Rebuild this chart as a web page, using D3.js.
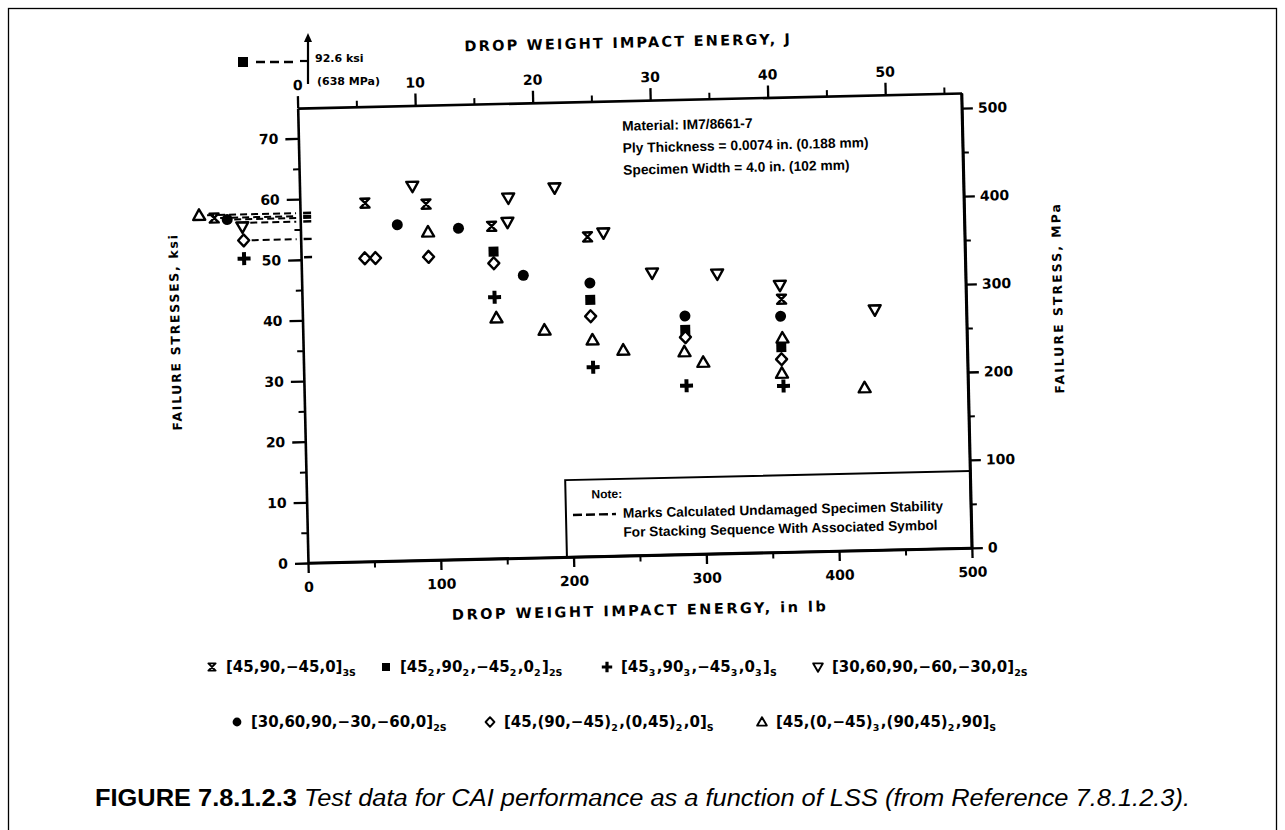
<!DOCTYPE html>
<html><head><meta charset="utf-8">
<script src="https://cdnjs.cloudflare.com/ajax/libs/d3/7.8.5/d3.min.js"></script>
<style>body{margin:0;background:#fff}svg{display:block}</style>
</head><body>
<svg id="c" width="1285" height="830"></svg>
<script>
// ---------------- DATA ----------------
const xTicksInLb = [0,100,200,300,400,500];
const xMinorInLb = [50,150,250,350,450];
const xTicksJ = [0,10,20,30,40,50];
const xMinorJ = [5,15,25,35,45,55];
const yTicksKsi = [0,10,20,30,40,50,60,70];
const yMinorKsi = [5,15,25,35,45,55,65];
const yTicksMPa = [0,100,200,300,400,500];
const yMinorMPa = [50,150,250,350,450];

const seriesKeys = ["x","square","plus","triDown","circle","diamond","triUp"];
const seriesLabels = [
  "[45,90,\u221245,0]_{3S}",
  "[45_{2},90_{2},\u221245_{2},0_{2}]_{2S}",
  "[45_{3},90_{3},\u221245_{3},0_{3}]_{S}",
  "[30,60,90,\u221260,\u221230,0]_{2S}",
  "[30,60,90,\u221230,\u221260,0]_{2S}",
  "[45,(90,\u221245)_{2},(0,45)_{2},0]_{S}",
  "[45,(0,\u221245)_{3},(90,45)_{2},90]_{S}"
];
// impact energy (in-lb) and failure stress (ksi) per stacking sequence
const energyX = [49,95,144,216,361];
const stressX = [59.1,58.7,54.8,52.7,41.7];
const energySquare = [145,217,288,360];
const stressSquare = [50.6,42.3,37.0,33.8];
const energyPlus = [145,218,288,361];
const stressPlus = [43.1,31.2,27.8,27.4];
const energyTriDown = [85,157,156,192,228,264,313,360,431];
const stressTriDown = [61.7,59.4,55.4,60.9,53.3,46.5,46.1,44.0,39.6];
const energyCircle = [73,119,167,217,288,360];
const stressCircle = [55.4,54.6,46.6,45.1,39.3,38.9];
const energyDiamond = [48,56,96,145,217,288,360];
const stressDiamond = [50.0,50.0,50.0,48.7,39.6,35.8,31.8];
const energyTriUp = [96,146,182,218,241,287,301,361,360,422];
const stressTriUp = [54.1,39.7,37.5,35.7,33.9,33.4,31.6,35.3,29.5,26.8];

// calculated undamaged specimen stability (ksi)
const stabKeys = ["triUp","x","circle","triDown","diamond","plus"];
const stabValues = [57.7,57.2,56.9,56.3,53.4,50.4];
const offScaleKey = "square";
const offScaleLabel = ["92.6 ksi","(638 MPa)"];

const materialLines = ["Material: IM7/8661-7","Ply Thickness = 0.0074 in. (0.188 mm)","Specimen Width = 4.0 in. (102 mm)"];
const noteLines = ["Note:","Marks Calculated Undamaged Specimen Stability","For Stacking Sequence With Associated Symbol"];
const captionBold = "FIGURE 7.8.1.2.3";
const captionItalic = "Test data for CAI performance as a function of LSS (from Reference 7.8.1.2.3).";

const seriesData = [
  [energyX,stressX],[energySquare,stressSquare],[energyPlus,stressPlus],
  [energyTriDown,stressTriDown],[energyCircle,stressCircle],
  [energyDiamond,stressDiamond],[energyTriUp,stressTriUp]
];

// ---------------- DRAW ----------------
const svg = d3.select("#c");
const FONT = "'DejaVu Sans', sans-serif";
const SANS = "'Liberation Sans', Arial, sans-serif";
const W = 664, H = 455;
const x = d3.scaleLinear().domain([0,500]).range([0,W]);
const xJ = d3.scaleLinear().domain([0,500*0.1129848]).range([0,W]);
const y = d3.scaleLinear().domain([0,75]).range([0,-H]);
const yM = d3.scaleLinear().domain([0,75*6.894757]).range([0,-H]);

svg.append("rect").attr("x",8.5).attr("y",8.5).attr("width",1268).attr("height",840)
  .attr("fill","none").attr("stroke","#000").attr("stroke-width",1.3);

function symPath(t){
  switch(t){
    case "square": return "M-5,-5H5V5H-5Z";
    case "circle": return d3.symbol(d3.symbolCircle,95)();
    case "plus": return "M-2,-6.5H2V-2H6.5V2H2V6.5H-2V2H-6.5V-2H-2Z";
    case "triDown": return "M-6,-4.5H6L0,6Z";
    case "triUp": return "M-6,4.5H6L0,-6Z";
    case "diamond": return "M0,-6L5.5,0L0,6L-5.5,0Z";
    case "x": return "M-4.5,-4.5H4.5L-4.5,4.5H4.5Z";
  }
}
function drawSym(sel,t){
  const filled = (t==="square"||t==="circle"||t==="plus");
  return sel.append("path").attr("d",symPath(t))
    .attr("fill", filled ? "#000" : (t==="x" ? "none" : "#fff"))
    .attr("stroke", filled ? "none" : "#000")
    .attr("stroke-width", 2.4).attr("stroke-linejoin","round");
}

const g = svg.append("g").attr("transform","translate(308,563) rotate(-1.3)");

function styleAxis(sel, fs){
  sel.select(".domain").attr("stroke-width",2.6);
  sel.selectAll(".tick line").attr("stroke-width",2.3);
  sel.selectAll("text").attr("font-family",FONT).attr("font-weight","bold").attr("font-size",fs);
}
// bottom
g.append("g").call(d3.axisBottom(x).tickValues(xTicksInLb).tickSize(10).tickPadding(9).tickSizeOuter(0).tickFormat(d3.format("d")))
  .call(s=>styleAxis(s,14));
g.append("g").call(d3.axisBottom(x).tickValues(xMinorInLb).tickSize(6).tickFormat("").tickSizeOuter(0))
  .call(s=>{s.select(".domain").remove(); s.selectAll("line").attr("stroke-width",2);});
// top
g.append("g").attr("transform",`translate(0,${-H})`)
  .call(d3.axisTop(xJ).tickValues(xTicksJ).tickSize(12).tickPadding(6).tickSizeOuter(0).tickFormat(d3.format("d")))
  .call(s=>styleAxis(s,14));
g.append("g").attr("transform",`translate(0,${-H})`)
  .call(d3.axisTop(xJ).tickValues(xMinorJ).tickSize(6).tickFormat("").tickSizeOuter(0))
  .call(s=>{s.select(".domain").remove(); s.selectAll("line").attr("stroke-width",2);});
// left
g.append("g").call(d3.axisLeft(y).tickValues(yTicksKsi).tickSize(13).tickPadding(7).tickSizeOuter(0).tickFormat(d3.format("d")))
  .call(s=>styleAxis(s,14));
g.append("g").call(d3.axisLeft(y).tickValues(yMinorKsi).tickSize(6).tickFormat("").tickSizeOuter(0))
  .call(s=>{s.select(".domain").remove(); s.selectAll("line").attr("stroke-width",2);});
// right
g.append("g").attr("transform",`translate(${W},0)`)
  .call(d3.axisRight(yM).tickValues(yTicksMPa).tickSize(11).tickPadding(5).tickSizeOuter(0).tickFormat(d3.format("d")))
  .call(s=>styleAxis(s,14));
g.append("g").attr("transform",`translate(${W},0)`)
  .call(d3.axisRight(yM).tickValues(yMinorMPa).tickSize(6).tickFormat("").tickSizeOuter(0))
  .call(s=>{s.select(".domain").remove(); s.selectAll("line").attr("stroke-width",2);});

// axis titles
const titleStyle = s=>s.attr("font-family",FONT).attr("font-weight","bold").attr("fill","#000");
g.append("text").attr("x",332).attr("y",-508).attr("text-anchor","middle")
  .attr("font-size",14.5).attr("letter-spacing",2.2).call(titleStyle).text("DROP WEIGHT IMPACT ENERGY, J");
g.append("text").attr("x",331).attr("y",60).attr("text-anchor","middle")
  .attr("font-size",14.5).attr("letter-spacing",2.5).call(titleStyle).text("DROP WEIGHT IMPACT ENERGY, in lb");
g.append("text").attr("transform","translate(-123,-234) rotate(-90)").attr("text-anchor","middle")
  .attr("font-size",12.5).attr("letter-spacing",1.7).call(titleStyle).text("FAILURE STRESSES, ksi");
g.append("text").attr("transform","translate(760,-248) rotate(-90)").attr("text-anchor","middle")
  .attr("font-size",12.5).attr("letter-spacing",2).call(titleStyle).text("FAILURE STRESS, MPa");

// material annotation
g.selectAll(".mat").data(materialLines).join("text")
  .attr("x",324).attr("y",(d,i)=>-425+i*22)
  .attr("font-family",SANS).attr("font-weight","bold").attr("font-size",13.8)
  .text(d=>d);

// note box
const noteTop = 77, noteLeft = 259;
g.append("rect").attr("x",noteLeft).attr("y",-noteTop).attr("width",W-noteLeft).attr("height",noteTop)
  .attr("fill","#fff").attr("stroke","#000").attr("stroke-width",2);
g.append("text").attr("x",285).attr("y",-58).attr("font-family",SANS)
  .attr("font-weight","bold").attr("font-size",12).text(noteLines[0]);
g.append("line").attr("x1",266).attr("x2",309).attr("y1",-42).attr("y2",-42)
  .attr("stroke","#000").attr("stroke-width",2.4).attr("stroke-dasharray","9,4");
g.append("text").attr("x",316).attr("y",-38).attr("font-family",SANS)
  .attr("font-weight","bold").attr("font-size",13.7).text(noteLines[1]);
g.append("text").attr("x",316).attr("y",-19).attr("font-family",SANS)
  .attr("font-weight","bold").attr("font-size",13.7).text(noteLines[2]);
// redraw axis lines over note box edges
g.append("line").attr("x1",0).attr("x2",W).attr("y1",0).attr("y2",0).attr("stroke","#000").attr("stroke-width",2.6);
g.append("line").attr("x1",W).attr("x2",W).attr("y1",0).attr("y2",-H).attr("stroke","#000").attr("stroke-width",2.6);

// data points
seriesData.forEach(([es,ss],k)=>{
  es.forEach((e,i)=>{
    drawSym(g,seriesKeys[k]).attr("transform",`translate(${x(e)},${y(ss[i])})`);
  });
});

// stability marks left of axis
const stabSymX = [-101,-86,-73,-58,-57,-57];
const stabDashFrom = [-93,-80,-66,-50,-49,-49];
stabKeys.forEach((k,i)=>{
  const yy = y(stabValues[i]);
  const symY = (k==="triDown") ? yy+4 : yy;
  drawSym(g,k).attr("transform",`translate(${stabSymX[i]},${symY})`);
  if(k!=="plus"){
    g.append("line").attr("x1",stabDashFrom[i]).attr("x2",-4).attr("y1",yy).attr("y2",yy)
      .attr("stroke","#000").attr("stroke-width",2).attr("stroke-dasharray","7,4");
  }
  g.append("line").attr("x1",3).attr("x2",11).attr("y1",yy).attr("y2",yy)
    .attr("stroke","#000").attr("stroke-width",2.4);
});

// off-scale stability (square) above the plot
drawSym(svg,offScaleKey).attr("transform","translate(243,62)");
svg.append("line").attr("x1",256).attr("x2",294).attr("y1",62).attr("y2",62)
  .attr("stroke","#000").attr("stroke-width",2.6).attr("stroke-dasharray","9,5");
svg.append("line").attr("x1",308).attr("x2",308).attr("y1",38).attr("y2",84).attr("stroke","#000").attr("stroke-width",2.2);
svg.append("path").attr("d","M308,33L304,42H312Z").attr("fill","#000");
svg.append("line").attr("x1",300).attr("x2",309).attr("y1",61).attr("y2",61).attr("stroke","#000").attr("stroke-width",2.2);
svg.append("text").attr("x",315).attr("y",62).attr("font-family",FONT).attr("font-weight","bold").attr("font-size",11).text(offScaleLabel[0]);
svg.append("text").attr("x",317).attr("y",85).attr("font-family",FONT).attr("font-weight","bold").attr("font-size",11).text(offScaleLabel[1]);

// legend (bottom)
const legendPos = [[212,672],[386,672],[607,672],[818,672],[237,727],[490,727],[762,727]];
seriesKeys.forEach((k,i)=>{
  const [lx,ly] = legendPos[i];
  drawSym(svg,k).attr("transform",`translate(${lx},${ly-5}) scale(0.8)`);
  const t = svg.append("text").attr("x",lx+14).attr("y",ly)
    .attr("font-family",FONT).attr("font-weight","bold").attr("font-size",15);
  const parts = seriesLabels[i].split(/_\{([^}]*)\}/);
  parts.forEach((p,j)=>{
    if(p==="") return;
    if(j%2===1){
      t.append("tspan").attr("font-size",9.5).attr("dy",4).text(p);
      t.append("tspan").attr("font-size",15).attr("dy",-4).text("\u200a");
    } else {
      t.append("tspan").text(p);
    }
  });
});

// caption
const cap = svg.append("text").attr("x",95).attr("y",806)
  .attr("font-family",SANS).attr("font-size",23)
  .attr("textLength",1095).attr("lengthAdjust","spacingAndGlyphs");
cap.append("tspan").attr("font-weight","bold").text(captionBold);
cap.append("tspan").attr("font-style","italic").text("  " + captionItalic);
</script>
</body></html>
